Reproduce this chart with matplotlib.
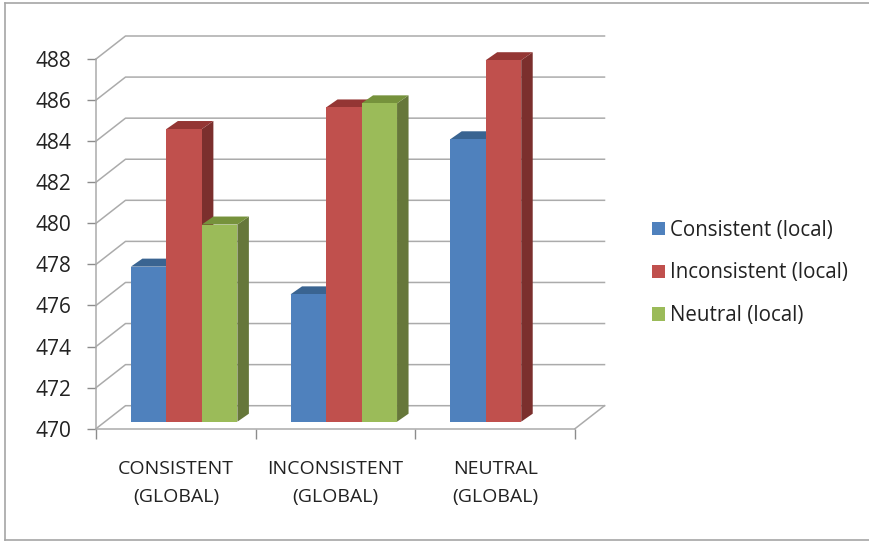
import matplotlib
matplotlib.use("Agg")
import matplotlib.pyplot as plt
from matplotlib.lines import Line2D
from matplotlib.patches import Patch, Polygon

plt.rcParams["font.family"] = ["Open Sans", "DejaVu Sans"]

categories = ["CONSISTENT\n(GLOBAL)", "INCONSISTENT\n(GLOBAL)", "NEUTRAL\n(GLOBAL)"]
series_names = ["Consistent (local)", "Inconsistent (local)", "Neutral (local)"]
consistent_local = [477.55, 476.2, 483.75]
inconsistent_local = [484.25, 485.3, 487.6]
neutral_local = [479.6, 485.5, None]
y_ticks = list(range(470, 490, 2))

front_colors = ["#4F81BD", "#C0504D", "#9BBB59"]
top_colors = ["#3A6491", "#943634", "#76923C"]
side_colors = ["#2F4E74", "#7B2F2D", "#66773A"]
GRID = "#ABABAB"
TEXT = "#222222"

W, H = 869, 541
fig = plt.figure(figsize=(W / 100, H / 100), dpi=100, facecolor="white")

# Front plane of the plot box, in pixels from the top-left corner
left, right, top, bottom = 96, 575, 59, 428.7
ax = fig.add_axes([left / W, 1 - bottom / H, (right - left) / W, (bottom - top) / H])
ax.set_xlim(-0.5, 2.5)
ax.set_ylim(470, 488)
ax.patch.set_visible(False)

# Oblique projection: depth of the box expressed in data units
x_per_px = 3 / (right - left)
y_per_px = 18 / (bottom - top)
depth_x = 29.5 * x_per_px
depth_y = 23 * y_per_px

# Walls and floor behind the bars
x0, x1 = -0.5, 2.5
for tick in y_ticks:
    ax.add_line(Line2D([x0, x0 + depth_x, x1 + depth_x], [tick, tick + depth_y, tick + depth_y],
                       color=GRID, lw=1.1, clip_on=False, zorder=1))
ax.add_line(Line2D([x1, x1 + depth_x], [470, 470 + depth_y], color=GRID, lw=1.1, clip_on=False, zorder=1))

# Bars stand a little behind the front plane
bar_width = 35.5 * x_per_px
bar_dx = 8.3 * x_per_px
bar_dy = 7 * y_per_px
side_dx = 11.5 * x_per_px
side_dy = 8 * y_per_px

all_series = [consistent_local, inconsistent_local, neutral_local]
for s, values in enumerate(all_series):
    for c, value in enumerate(values):
        if value is None:
            continue
        xc = c + (s - 1) * bar_width + bar_dx
        xl, xr = xc - bar_width / 2, xc + bar_width / 2
        yb, yt = 470 + bar_dy, value + bar_dy
        z = 3 + c * 10 + s
        ax.add_patch(Polygon([(xr, yb), (xr + side_dx, yb + side_dy), (xr + side_dx, yt + side_dy), (xr, yt)],
                             fc=side_colors[s], ec="none", clip_on=False, zorder=z))
        ax.add_patch(Polygon([(xl, yt), (xl + side_dx, yt + side_dy), (xr + side_dx, yt + side_dy), (xr, yt)],
                             fc=top_colors[s], ec="none", clip_on=False, zorder=z))
        ax.bar(xc, value - 470, bottom=yb, width=bar_width, color=front_colors[s],
               clip_on=False, zorder=z + 0.5)

# Axes lines and ticks
for side in ("top", "right"):
    ax.spines[side].set_visible(False)
for side in ("left", "bottom"):
    ax.spines[side].set_color(GRID)
    ax.spines[side].set_linewidth(1.1)
    ax.spines[side].set_zorder(2)
ax.set_yticks(y_ticks)
ax.set_xticks([-0.5, 0.5, 1.5, 2.5])
ax.set_xticklabels([])
ax.set_xticks([0, 1, 2], minor=True)
ax.set_xticklabels(categories, minor=True, fontsize=14, color=TEXT, linespacing=1.72)
ax.tick_params(axis="y", length=6.5, width=1.0, color="#8C8C8C", labelsize=15, labelcolor=TEXT, pad=11)
ax.tick_params(axis="x", which="major", length=7, width=1.0, color="#8C8C8C")
ax.tick_params(axis="x", which="minor", length=0, pad=22.5)

handles = [Patch(fc=c, ec="none") for c in front_colors]
ax.legend(handles, series_names, loc="center left", bbox_to_anchor=(652 / W, 1 - 273 / H),
          bbox_transform=fig.transFigure, frameon=False, fontsize=14.8,
          handlelength=0.63, handleheight=0.63, handletextpad=0.25, labelspacing=1.05,
          borderpad=0, borderaxespad=0, labelcolor=TEXT)

# Chart border, open at the right edge
for xs, ys in [([5, 5], [3, 540]), ([5, 869], [3, 3]), ([5, 869], [540, 540])]:
    fig.add_artist(Line2D([x / W for x in xs], [1 - y / H for y in ys], color="#A6A6A6", lw=1.2))

fig.savefig("out.png", dpi=100)
